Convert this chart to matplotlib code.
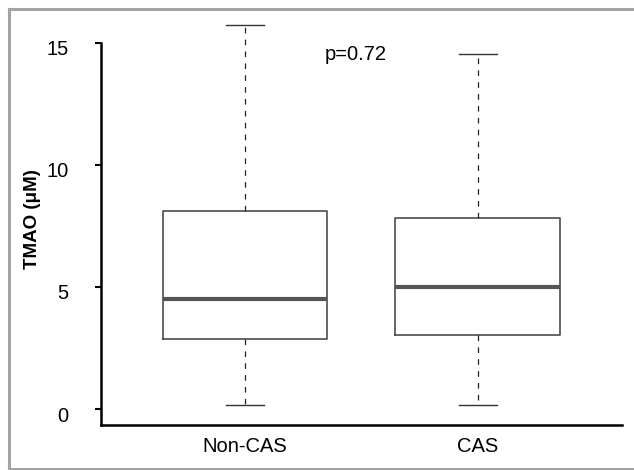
import matplotlib
matplotlib.use('Agg')
import matplotlib.pyplot as plt
import matplotlib.transforms as mtransforms
from matplotlib.lines import Line2D

plt.rcParams['font.family'] = ['Liberation Sans', 'DejaVu Sans']

# valores
grupos = ['Non-CAS', 'CAS']
bigote_inf = [0.19, 0.19]
q1 = [2.88, 3.04]
mediana = [4.50, 4.99]
q3 = [8.11, 7.81]
bigote_sup = [15.72, 14.52]
p_valor = 'p=0.72'

stats = []
for i, g in enumerate(grupos):
    stats.append({'label': g, 'whislo': bigote_inf[i], 'q1': q1[i], 'med': mediana[i],
                  'q3': q3[i], 'whishi': bigote_sup[i], 'fliers': []})

fig = plt.figure(figsize=(6.34, 4.70), dpi=100)
ax = fig.add_axes([101 / 634, 1 - 425 / 470, 520.5 / 634, 405 / 470])

ax.bxp(stats, positions=[1, 2], widths=0.708, capwidths=0.166, showfliers=False,
       boxprops=dict(color='#4d4d4d', linewidth=1.2),
       medianprops=dict(color='#555555', linewidth=3.0, solid_capstyle='butt'),
       whiskerprops=dict(color='#222222', linewidth=0.9, linestyle=(0, (4.5, 5.0))),
       capprops=dict(color='#333333', linewidth=1.0))

ax.set_xlim(0.382, 2.616)
ax.set_ylim(-0.64, 15.92)
ax.set_yticks([0, 5, 10, 15])

for s in ['top', 'right']:
    ax.spines[s].set_visible(False)
ax.spines['left'].set_bounds(-0.64, 15)
ax.spines['left'].set_linewidth(1.8)
ax.spines['bottom'].set_linewidth(1.8)
ax.tick_params(axis='y', length=4.3, width=1.5, pad=19, labelsize=14.5)
ax.tick_params(axis='x', length=0, pad=9, labelsize=14.5)

desplaza = mtransforms.ScaledTranslation(0, -3.5 / 72, fig.dpi_scale_trans)
for lab in ax.get_yticklabels():
    lab.set_transform(lab.get_transform() + desplaza)

ax.set_ylabel('TMAO (μM)', fontsize=13.5, fontweight='bold')
ax.yaxis.set_label_coords(-0.116, 0.508)

ax.text(1.475, 14.5, p_valor, ha='center', va='center', fontsize=14.5)

# marco gris alrededor de la figura
gris = '#a3a3a3'
fig.add_artist(Line2D([8.5 / 634, 8.5 / 634], [0, 1 - 8.5 / 470], color=gris, lw=2.2,
                      transform=fig.transFigure))
fig.add_artist(Line2D([8.5 / 634, 1], [1 - 8.5 / 470, 1 - 8.5 / 470], color=gris, lw=2.2,
                      transform=fig.transFigure))
fig.add_artist(Line2D([8.5 / 634, 1], [1.3 / 470, 1.3 / 470], color=gris, lw=2.2,
                      transform=fig.transFigure))

fig.savefig('out.png', dpi=100)
